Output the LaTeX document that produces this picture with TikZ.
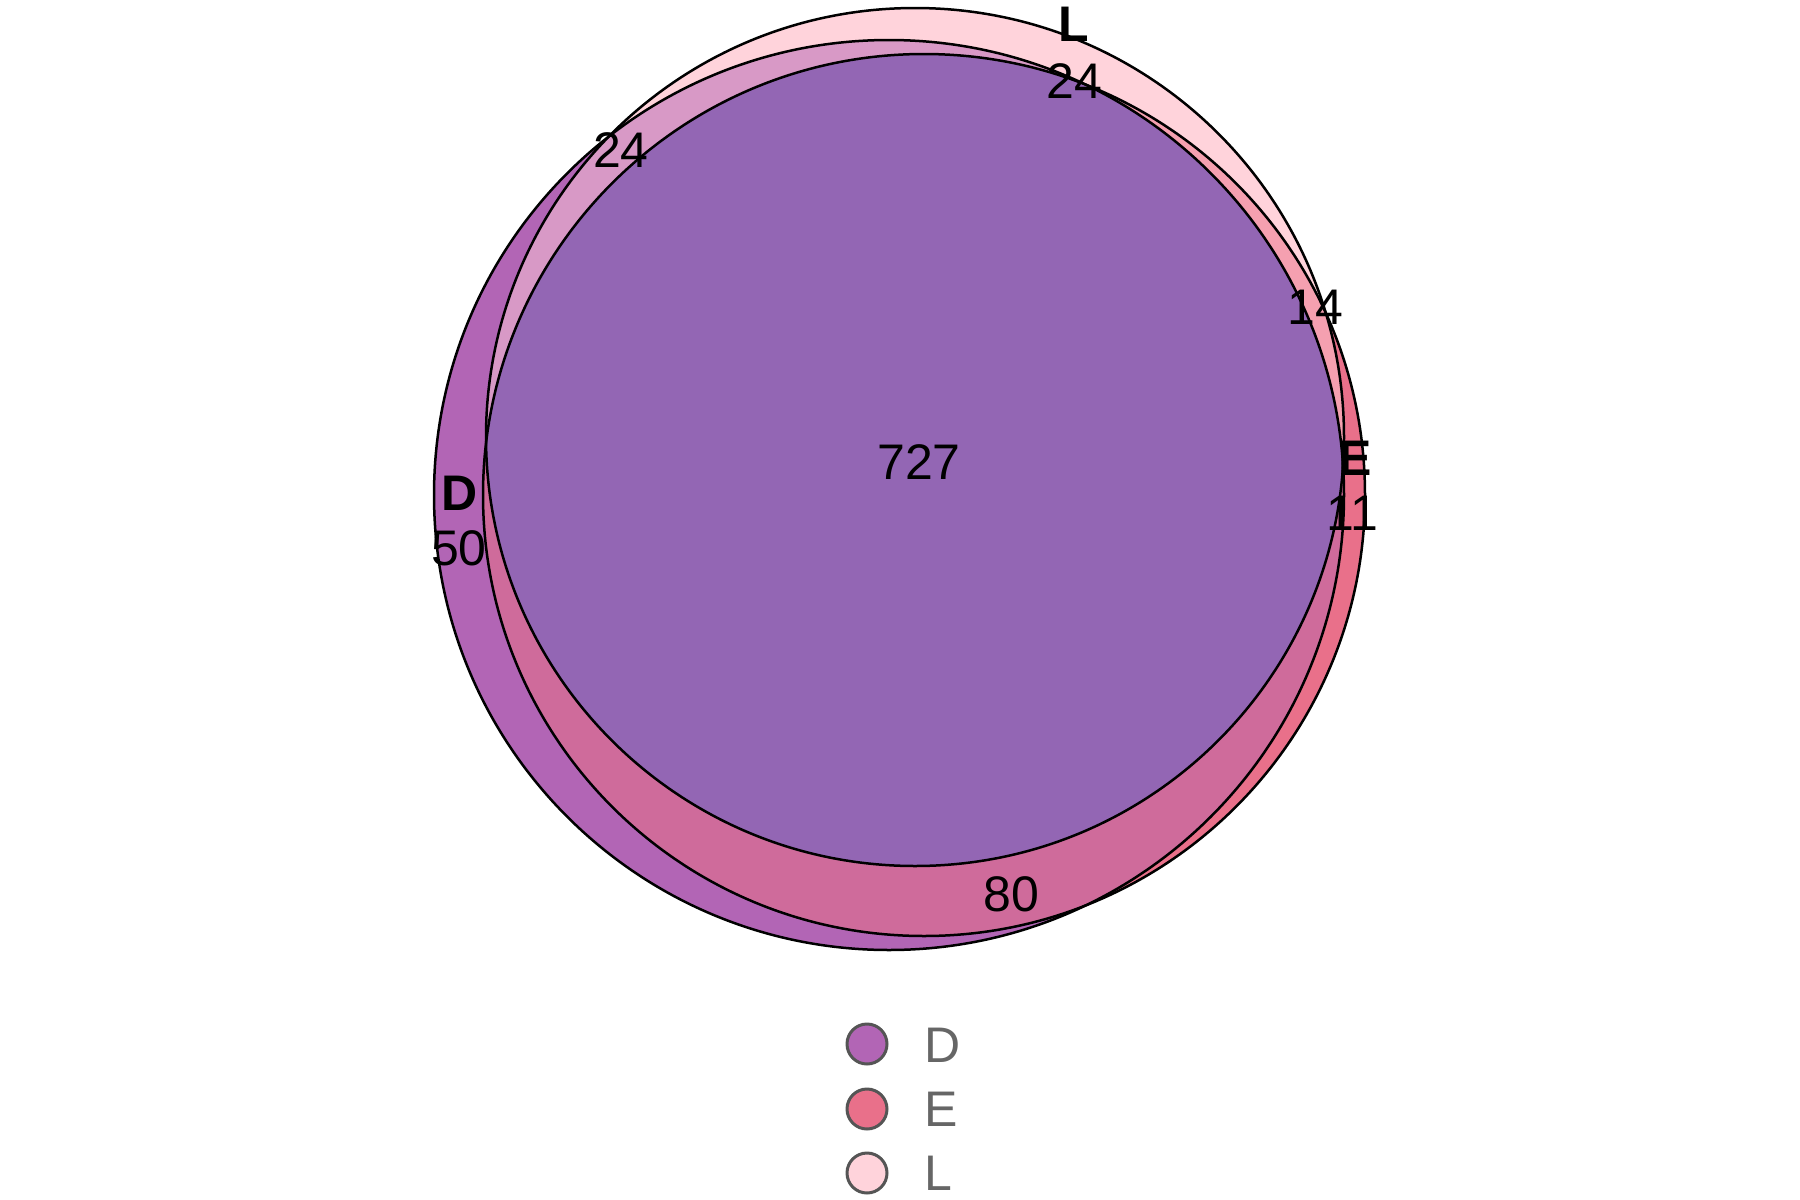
\documentclass[tikz,border=0pt]{standalone}
\usepackage{fontspec}
\setmainfont{Liberation Sans}
\definecolor{cD}{HTML}{B265B5}
\definecolor{cE}{HTML}{E9708A}
\definecolor{cL}{HTML}{FFD3DB}
\definecolor{cDE}{HTML}{CF6B9B}
\definecolor{cDL}{HTML}{D899C6}
\definecolor{cEL}{HTML}{F5A0B0}
\definecolor{cDEL}{HTML}{9366B4}
\definecolor{legtext}{HTML}{666666}
\definecolor{legline}{HTML}{555555}
\tikzset{
  outline/.style={draw=black,line width=2.5pt},
  num/.style={font=\fontsize{50}{60}\selectfont,inner sep=0pt},
  setlabel/.style={font=\fontsize{50}{60}\selectfont\bfseries,inner sep=0pt},
  legdot/.style={circle,draw=legline,line width=3pt,minimum size=40pt,inner sep=0pt},
  legtxt/.style={font=\fontsize{50}{60}\selectfont,text=legtext,anchor=west,inner sep=0pt}
}
\newcommand{\circD}{(889,495) circle[radius=455pt]}
\newcommand{\circE}{(924,495) circle[radius=441pt]}
\newcommand{\circL}{(915,437) circle[radius=429pt]}
\begin{document}
\begin{tikzpicture}[x=1pt,y=-1pt]
\useasboundingbox (0,0) rectangle (1800,1200);
\fill[white] (0,0) rectangle (1800,1200);
% single sets
\fill[cD] \circD;
\fill[cE] \circE;
\fill[cL] \circL;
% pairwise
\begin{scope}\clip \circD; \fill[cDE] \circE; \end{scope}
\begin{scope}\clip \circD; \fill[cDL] \circL; \end{scope}
\begin{scope}\clip \circE; \fill[cEL] \circL; \end{scope}
% triple
\begin{scope}\clip \circD; \clip \circE; \fill[cDEL] \circL; \end{scope}
% outlines
\draw[outline] \circD;
\draw[outline] \circE;
\draw[outline] \circL;
% set labels
\node[setlabel] (lL) at (1074,24) {L};
\node[setlabel] (lD) at (460,493) {D};
\node[setlabel] (lE) at (1355,458) {E};
% counts
\node[num] (n727) at (919,462) {727};
\node[num] (n24a) at (1074,81) {24};
\node[num] (n24b) at (621,150) {24};
\node[num] (n14) at (1315,307) {14};
\node[num] (n11) at (1352,513) {11};
\node[num] (n50) at (459,548) {50};
\node[num] (n80) at (1011,894) {80};
% legend
\node[legdot,fill=cD] (gD) at (867,1044) {};
\node[legdot,fill=cE] (gE) at (867,1109) {};
\node[legdot,fill=cL] (gL) at (867,1173) {};
\node[legtxt] (tD) at (924,1045) {D};
\node[legtxt] (tE) at (924,1109) {E};
\node[legtxt] (tL) at (924,1173) {L};
\end{tikzpicture}
\end{document}
